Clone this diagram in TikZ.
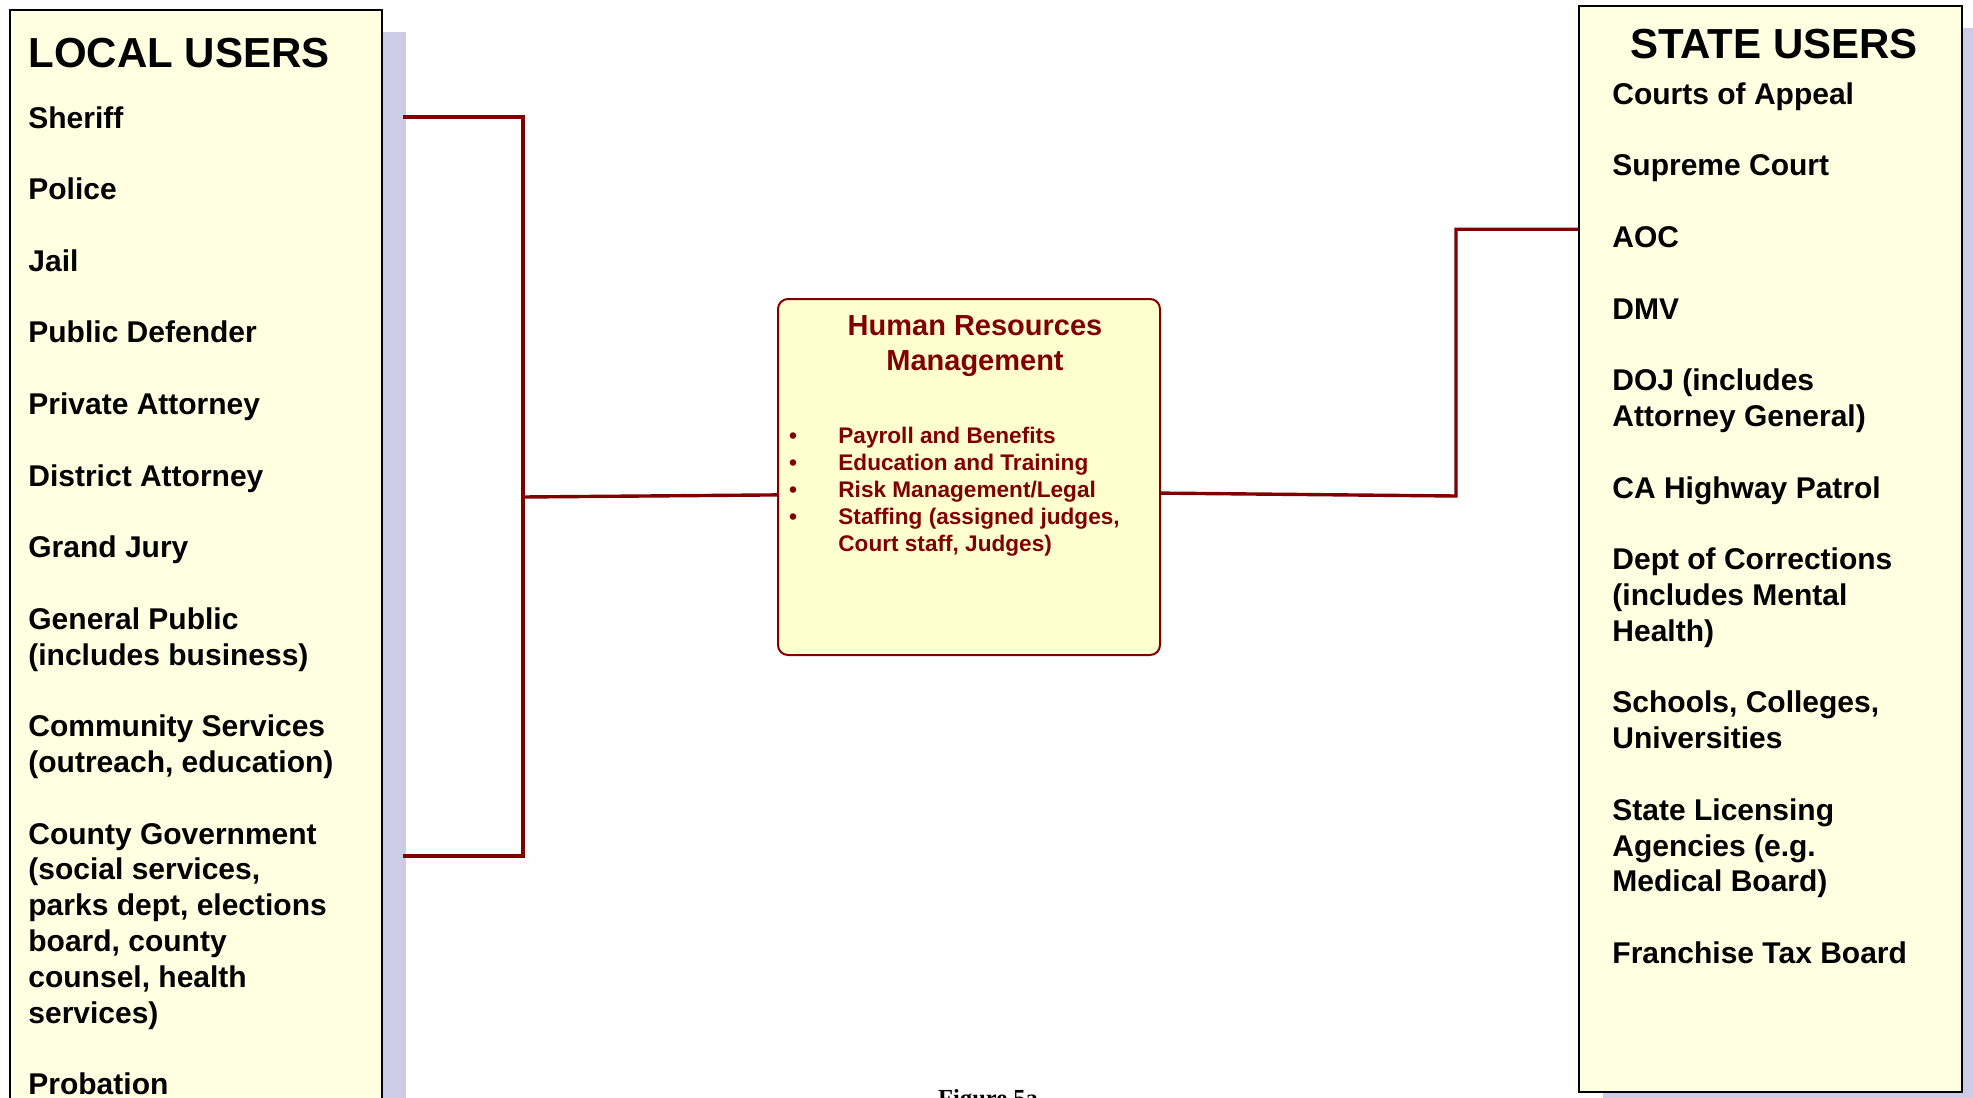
\documentclass[tikz,border=0pt]{standalone}
\usepackage{fontspec}
\setmainfont{Liberation Sans}
\newfontfamily\figfont{Liberation Serif}
\usetikzlibrary{calc,shadows}
\definecolor{PaleCream}{RGB}{255,255,225}
\definecolor{HRCream}{RGB}{255,255,208}
\definecolor{ShadowLilac}{RGB}{204,204,230}
\definecolor{DeepMaroon}{RGB}{128,0,0}
\tikzset{
  userbox/.style={draw=black,line width=1.2pt,fill=PaleCream,anchor=north west,inner sep=0pt,
    drop shadow={shadow xshift=12pt,shadow yshift=-11pt,fill=ShadowLilac,opacity=1}},
  hrbox/.style={draw=DeepMaroon,line width=1pt,fill=HRCream,rounded corners=5pt,
    anchor=north west,inner sep=0pt},
  link/.style={draw=DeepMaroon,line width=1.7pt},
  headtext/.style={inner sep=0pt,font=\fontsize{21}{24}\selectfont\bfseries},
  listtext/.style={inner sep=0pt,anchor=base west,align=left,
    font=\fontsize{15}{17.9}\selectfont\bfseries},
  hrtitle/.style={inner sep=0pt,anchor=base,align=center,text=DeepMaroon,
    font=\fontsize{14.5}{17.5}\selectfont\bfseries},
  hritems/.style={inner sep=0pt,align=left,text=DeepMaroon,
    font=\fontsize{11.3}{13.6}\selectfont\bfseries},
  figtext/.style={inner sep=0pt,anchor=base,font=\figfont\fontsize{12.25}{14}\selectfont\bfseries}
}
\begin{document}
\begin{tikzpicture}[x=0.5pt,y=-0.5pt]
  \useasboundingbox (0,0) rectangle (1973,1097);
  % panels
  \node[userbox,minimum width=186pt,minimum height=560pt] (local) at (9,9) {};
  \node[userbox,minimum width=191.5pt,minimum height=543pt] (state) at (1578,5) {};
  \node[hrbox,minimum width=191pt,minimum height=178pt] (hr) at (777,298) {};
  % local users (node placed by its last line)
  \node[headtext,anchor=base west] (localhead) at (28,68) {LOCAL USERS};
  \node[listtext] (locallist) at (28,1094.6) {
    Sheriff\\[17.9pt]
    Police\\[17.9pt]
    Jail\\[17.9pt]
    Public Defender\\[17.9pt]
    Private Attorney\\[17.9pt]
    District Attorney\\[17.9pt]
    Grand Jury\\[17.9pt]
    General Public\\(includes business)\\[17.9pt]
    Community Services\\(outreach, education)\\[17.9pt]
    County Government\\(social services,\\parks dept, elections\\board, county\\counsel, health\\services)\\[17.9pt]
    Probation};
  % state users
  \node[headtext,anchor=base] (statehead) at (1774,59) {STATE USERS};
  \node[listtext] (statelist) at (1612,963.5) {
    Courts of Appeal\\[17.9pt]
    Supreme Court\\[17.9pt]
    AOC\\[17.9pt]
    DMV\\[17.9pt]
    DOJ (includes\\Attorney General)\\[17.9pt]
    CA Highway Patrol\\[17.9pt]
    Dept of Corrections\\(includes Mental\\Health)\\[17.9pt]
    Schools, Colleges,\\Universities\\[17.9pt]
    State Licensing\\Agencies (e.g.\\Medical Board)\\[17.9pt]
    Franchise Tax Board};
  % human resources
  \node[hrtitle] (hrhead) at (975,370) {Human Resources\\Management};
  \node[hritems,anchor=base] (hrdots) at (793,524.6) {\textbullet\\\textbullet\\\textbullet\\\textbullet};
  \node[hritems,anchor=base west] (hrlist) at (838,551.8) {
    Payroll and Benefits\\
    Education and Training\\
    Risk Management/Legal\\
    Staffing (assigned judges,\\
    Court staff, Judges)};
  \node[figtext] (caption) at (988,1106) {Figure 5a};
  % connectors
  \coordinate (lt) at (403,117);
  \coordinate (lb) at (403,856);
  \coordinate (lj) at (523,497);
  \coordinate (rj) at (1456,496);
  \coordinate (hrin) at ($(hr.north west)!0.55!(hr.south west)$);
  \coordinate (hrout) at ($(hr.north east)!0.545!(hr.south east)$);
  \coordinate (statein) at ($(state.north west)!0.206!(state.south west)$);
  \draw[link] (lt) -| (lj) |- (lb);
  \draw[link] (lj) -- (hrin);
  \draw[link] (hrout) -- (rj) |- (statein);
\end{tikzpicture}
\end{document}
